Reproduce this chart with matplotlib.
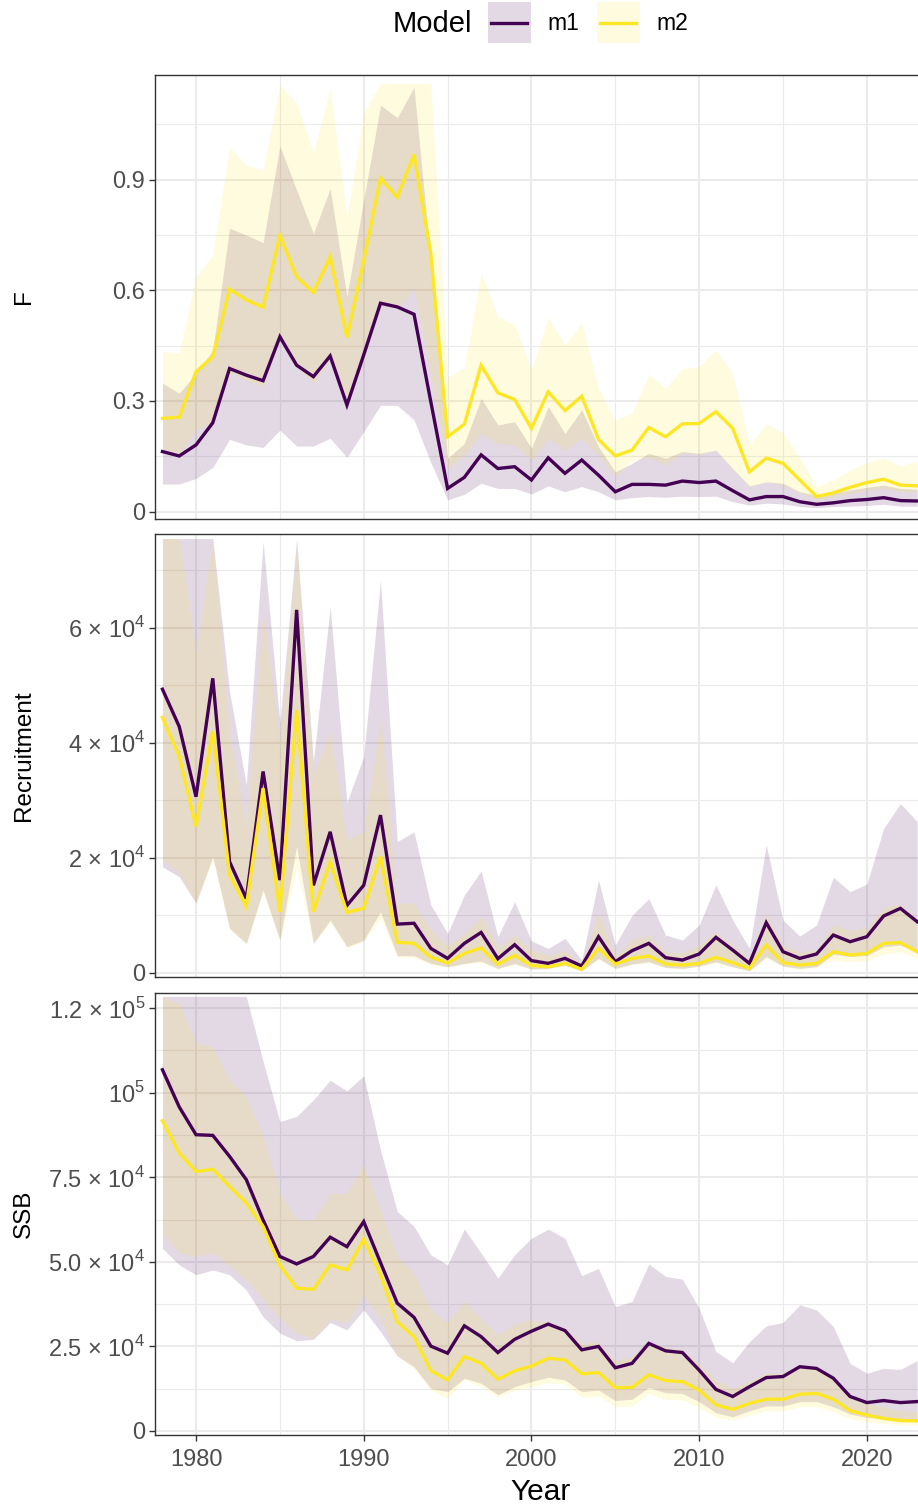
import numpy as np
import matplotlib

matplotlib.use("Agg")
import matplotlib.pyplot as plt
from matplotlib.ticker import FixedLocator
from matplotlib.lines import Line2D
from matplotlib.patches import Rectangle

plt.rcParams["font.family"] = ["Liberation Sans", "DejaVu Sans"]
plt.rcParams["mathtext.fontset"] = "custom"
plt.rcParams["mathtext.rm"] = "Liberation Sans"

years = np.arange(1978, 2024)

# ---- F ----
f_m1 = [0.163, 0.151, 0.181, 0.241, 0.388, 0.370, 0.355, 0.474, 0.397, 0.366,
        0.422, 0.289, 0.425, 0.565, 0.555, 0.535, 0.298, 0.063, 0.093, 0.154,
        0.117, 0.122, 0.086, 0.146, 0.104, 0.140, 0.099, 0.054, 0.074, 0.074,
        0.072, 0.083, 0.079, 0.083, 0.057, 0.032, 0.041, 0.041, 0.027, 0.020,
        0.024, 0.030, 0.033, 0.038, 0.030, 0.029]
f_m1_lo = [0.075, 0.075, 0.090, 0.120, 0.196, 0.181, 0.174, 0.221, 0.178, 0.178,
           0.199, 0.147, 0.217, 0.288, 0.288, 0.249, 0.133, 0.032, 0.047, 0.077,
           0.063, 0.063, 0.048, 0.070, 0.054, 0.068, 0.054, 0.032, 0.038, 0.041,
           0.039, 0.042, 0.041, 0.042, 0.027, 0.018, 0.023, 0.021, 0.014, 0.011,
           0.014, 0.015, 0.017, 0.020, 0.015, 0.015]
f_m1_hi = [0.348, 0.321, 0.375, 0.438, 0.768, 0.750, 0.729, 0.991, 0.872, 0.754,
           0.876, 0.583, 0.845, 1.102, 1.068, 1.150, 0.680, 0.145, 0.185, 0.307,
           0.235, 0.244, 0.172, 0.285, 0.212, 0.276, 0.176, 0.108, 0.131, 0.158,
           0.145, 0.163, 0.158, 0.167, 0.117, 0.070, 0.081, 0.077, 0.054, 0.045,
           0.051, 0.059, 0.066, 0.072, 0.063, 0.061]
f_m2 = [0.253, 0.256, 0.379, 0.420, 0.603, 0.574, 0.554, 0.748, 0.637, 0.594,
        0.691, 0.472, 0.680, 0.904, 0.852, 0.968, 0.700, 0.203, 0.237, 0.397,
        0.322, 0.304, 0.226, 0.325, 0.274, 0.313, 0.196, 0.151, 0.167, 0.228,
        0.203, 0.238, 0.239, 0.271, 0.226, 0.108, 0.145, 0.131, 0.086, 0.041,
        0.051, 0.066, 0.079, 0.088, 0.072, 0.070]
f_m2_lo = [0.172, 0.154, 0.221, 0.244, 0.375, 0.357, 0.339, 0.465, 0.393, 0.348,
           0.411, 0.285, 0.410, 0.560, 0.550, 0.605, 0.370, 0.117, 0.154, 0.212,
           0.185, 0.181, 0.140, 0.199, 0.167, 0.199, 0.154, 0.095, 0.140, 0.147,
           0.126, 0.160, 0.154, 0.167, 0.113, 0.068, 0.081, 0.072, 0.051, 0.032,
           0.041, 0.050, 0.057, 0.063, 0.054, 0.054]
f_m2_hi = [0.434, 0.431, 0.637, 0.696, 0.987, 0.939, 0.926, 1.156, 1.107, 0.971,
           1.145, 0.799, 1.079, 1.161, 1.161, 1.161, 1.161, 0.364, 0.390, 0.646,
           0.528, 0.506, 0.384, 0.527, 0.452, 0.512, 0.334, 0.247, 0.268, 0.373,
           0.334, 0.388, 0.393, 0.438, 0.373, 0.181, 0.238, 0.214, 0.145, 0.068,
           0.086, 0.113, 0.133, 0.145, 0.125, 0.136]

# ---- Recruitment ----
r_m1 = [49300, 42800, 30600, 51200, 19300, 12900, 35000, 16100, 63100, 15200,
        24500, 11700, 15200, 27400, 8450, 8600, 4230, 2490, 5100, 7000,
        2430, 4870, 2100, 1620, 2490, 1160, 6260, 1910, 3830, 5100,
        2610, 2200, 3250, 6150, 3940, 1620, 8700, 3650, 2490, 3250,
        6550, 5390, 6260, 9860, 11190, 8870]
r_m1_lo = [18400, 16700, 12100, 20200, 7710, 5100, 14400, 5680, 22000, 5100,
           9160, 4520, 5680, 10600, 2960, 2960, 1620, 1040, 1620, 2030,
           750, 1620, 640, 750, 1330, 350, 2490, 750, 1510, 1910,
           930, 750, 1160, 1910, 1040, 350, 2780, 1160, 750, 1040,
           3200, 2800, 3000, 4500, 4800, 3600]
r_m1_hi = [75500, 75500, 75500, 75500, 48900, 32600, 75000, 43600, 75500, 36700,
           63700, 29700, 37600, 68300, 22800, 24500, 11800, 6840, 13500, 17700,
           6260, 12350, 5510, 4230, 5970, 2200, 16100, 4810, 10000, 12900,
           6550, 5680, 8290, 15250, 9160, 4230, 22200, 9160, 6380, 8290,
           16600, 14100, 15400, 25100, 29400, 26300]
r_m2 = [44400, 37600, 25400, 42000, 17000, 11500, 32100, 10600, 45700, 10600,
        19300, 10500, 11200, 20200, 5300, 5100, 2700, 1680, 3360, 4320,
        1480, 3000, 1250, 1040, 1620, 580, 4230, 1510, 2490, 2900,
        1510, 1330, 1620, 2670, 1740, 750, 4810, 1740, 1330, 1620,
        3650, 3070, 3360, 5100, 5220, 3650]
r_m2_lo = [19600, 17300, 12300, 19600, 7500, 5000, 14000, 5500, 18500, 5000,
           8800, 4300, 5500, 9500, 2700, 2700, 1450, 950, 1450, 1850,
           680, 1450, 580, 680, 1200, 320, 2300, 700, 1400, 1750,
           850, 690, 1060, 1750, 950, 320, 2550, 1060, 690, 950,
           2200, 1910, 2090, 3250, 3650, 2490]
r_m2_hi = [75500, 75500, 55800, 75500, 41300, 25700, 62800, 40200, 74000, 34400,
           41900, 23100, 24500, 44200, 12100, 12100, 7420, 4700, 6840, 9740,
           4520, 6550, 3940, 3070, 3830, 1620, 10300, 3070, 5680, 6550,
           3650, 3480, 4810, 7130, 4810, 2490, 10300, 4810, 3650, 3940,
           8290, 7420, 7710, 11400, 11900, 9620]

# ---- SSB ----
s_m1 = [106800, 95800, 87600, 87400, 81200, 74300, 62400, 51600, 49400, 51600,
        57300, 54500, 61900, 49800, 37800, 33600, 25100, 23000, 31100, 27900,
        23200, 27100, 29500, 31600, 29700, 24000, 25000, 18700, 20000, 25900,
        23700, 23200, 18000, 12300, 10200, 13100, 15800, 16100, 19000, 18500,
        15600, 10200, 8400, 9000, 8400, 8700]
s_m1_lo = [54000, 49100, 46200, 47600, 46200, 41700, 33800, 28900, 26700, 27100,
           32100, 29900, 35800, 29400, 22200, 19000, 12600, 11600, 15600, 14100,
           10700, 13100, 14600, 15900, 15100, 11600, 12100, 9000, 9400, 12900,
           11300, 11100, 8700, 5400, 4200, 6000, 7400, 7400, 8700, 8700,
           7200, 5000, 4000, 3700, 3300, 3300]
s_m1_hi = [128500, 128500, 128500, 128500, 128500, 128500, 109300, 91500, 93000, 97900,
           103700, 100600, 105000, 83100, 64900, 60500, 52100, 49100, 59700, 52600,
           45200, 52100, 57000, 59700, 57000, 45900, 48100, 36800, 38300, 49400,
           45700, 44900, 36300, 23500, 20200, 26400, 31100, 32100, 37300, 35800,
           30900, 20000, 17100, 18500, 18200, 20800]
s_m2 = [91700, 82200, 76700, 77400, 72300, 67400, 60500, 49000, 42200, 41900,
        49100, 47600, 56700, 46200, 32300, 27900, 17800, 15100, 22000, 20000,
        15300, 17800, 19200, 21500, 21000, 16900, 17300, 12800, 12900, 16600,
        14900, 14600, 12100, 7700, 6400, 8200, 9400, 9400, 10900, 11100,
        9400, 6000, 4700, 3700, 3100, 3000]
s_m2_lo = [58500, 52600, 51600, 52600, 48800, 44700, 39000, 33300, 28900, 27400,
           33300, 31900, 40200, 32800, 22500, 18500, 12100, 9700, 15300, 13100,
           10000, 12100, 13100, 14300, 13900, 10000, 10400, 7200, 7400, 11100,
           9400, 9200, 7000, 4000, 3300, 4700, 6000, 6000, 7200, 7200,
           5700, 3700, 2800, 2300, 1800, 1800]
s_m2_hi = [128500, 126300, 114900, 113500, 103900, 98900, 87100, 70300, 62400, 62400,
           70300, 70300, 78700, 65400, 51600, 46600, 35800, 31900, 38300, 33300,
           28400, 31900, 32800, 32300, 30400, 26100, 26400, 21000, 22000, 26400,
           24800, 24000, 20000, 15100, 12600, 14900, 17100, 17100, 19000, 18500,
           15600, 10700, 8200, 7200, 6000, 5700]

C1 = "#440154"
C2 = "#FDE725"
GRID = "#EBEBEB"
TICKCOL = "#4D4D4D"
W, H = 918, 1509

panels = [
    dict(name="F", top=75, bottom=519, ylim=(-0.0198, 1.1835),
         major=[0, 0.3, 0.6, 0.9], minor=[0.15, 0.45, 0.75, 1.05],
         labels=["0", "0.3", "0.6", "0.9"],
         m1=(f_m1, f_m1_lo, f_m1_hi), m2=(f_m2, f_m2_lo, f_m2_hi)),
    dict(name="Recruitment", top=534, bottom=977, ylim=(-748, 76296),
         major=[0, 20000, 40000, 60000], minor=[10000, 30000, 50000, 70000],
         labels=["0", "2 × 10$^{4}$", "4 × 10$^{4}$", "6 × 10$^{4}$"],
         m1=(r_m1, r_m1_lo, r_m1_hi), m2=(r_m2, r_m2_lo, r_m2_hi)),
    dict(name="SSB", top=993, bottom=1435, ylim=(-1183, 129497),
         major=[0, 25000, 50000, 75000, 100000, 125000],
         minor=[12500, 37500, 62500, 87500, 112500],
         labels=["0", "2.5 × 10$^{4}$", "5.0 × 10$^{4}$", "7.5 × 10$^{4}$",
                 "10$^{5}$", "1.2 × 10$^{5}$"],
         m1=(s_m1, s_m1_lo, s_m1_hi), m2=(s_m2, s_m2_lo, s_m2_hi)),
]

fig = plt.figure(figsize=(W / 100, H / 100), dpi=100)

left, right = 155, 918
for i, p in enumerate(panels):
    ax = fig.add_axes([left / W, 1 - p["bottom"] / H, (right - left) / W,
                       (p["bottom"] - p["top"]) / H])
    est1, lo1, hi1 = p["m1"]
    est2, lo2, hi2 = p["m2"]
    ax.fill_between(years, lo1, hi1, color=C1, alpha=0.15, lw=0)
    ax.fill_between(years, lo2, hi2, color=C2, alpha=0.15, lw=0)
    ax.plot(years, est1, color=C1, lw=2.4, solid_joinstyle="miter")
    ax.plot(years, est2, color=C2, lw=2.4, solid_joinstyle="miter")

    ax.set_xlim(1977.555, 2023.05)
    ax.set_ylim(*p["ylim"])
    ax.xaxis.set_major_locator(FixedLocator([1980, 1990, 2000, 2010, 2020]))
    ax.xaxis.set_minor_locator(FixedLocator([1985, 1995, 2005, 2015]))
    ax.yaxis.set_major_locator(FixedLocator(p["major"]))
    ax.yaxis.set_minor_locator(FixedLocator(p["minor"]))
    ax.set_yticklabels(p["labels"])

    ax.set_axisbelow(True)
    ax.grid(which="major", color=GRID, lw=1.5)
    ax.grid(which="minor", color=GRID, lw=0.8)
    for s in ["left", "top", "bottom"]:
        ax.spines[s].set_color("#333333")
        ax.spines[s].set_linewidth(1.0)
    ax.spines["right"].set_visible(False)

    ax.tick_params(which="major", length=4, width=1.0, color="#333333",
                   labelsize=17, labelcolor=TICKCOL, pad=3)
    ax.tick_params(axis="x", which="major", pad=6)
    ax.tick_params(which="minor", length=0)
    if i < 2:
        ax.tick_params(axis="x", which="both", bottom=False, labelbottom=False)
    else:
        ax.set_xlabel("Year", fontsize=21.5)
        ax.xaxis.set_label_coords(0.505, -0.097)

    ax.set_ylabel(p["name"], fontsize=17.5)
    ax.yaxis.set_label_coords((35 - left) / (right - left), 0.5)

# legend
fig.text(393 / W, 1 - 24 / H, "Model", fontsize=21, va="center", ha="left")
for x0, col, lab in [(488, C1, "m1"), (597, C2, "m2")]:
    fig.add_artist(Rectangle((x0 / W, 1 - 43 / H), 43 / W, 41 / H,
                             transform=fig.transFigure, fc=col, alpha=0.15, lw=0))
    fig.add_artist(Line2D([(x0 + 3) / W, (x0 + 39) / W], [1 - 23 / H] * 2,
                          transform=fig.transFigure, color=col, lw=2.4))
    fig.text((x0 + 59) / W, 1 - 24 / H, lab, fontsize=16.5, va="center", ha="left")

fig.savefig("out.png", dpi=100)
